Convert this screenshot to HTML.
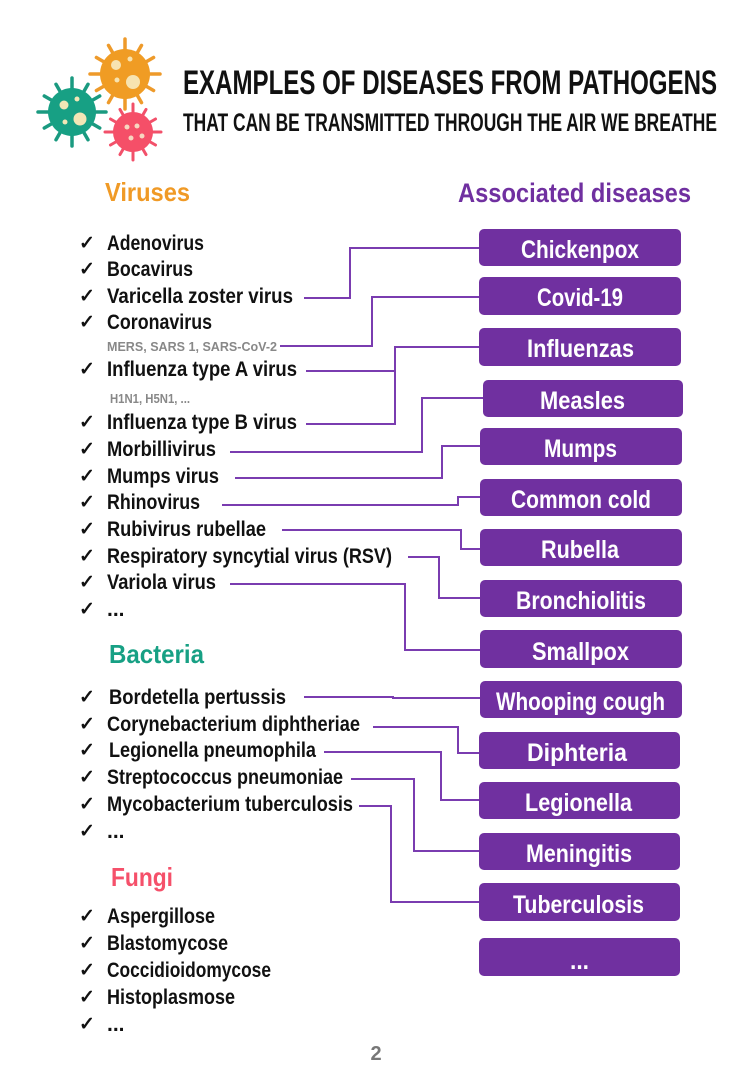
<!DOCTYPE html>
<html><head><meta charset="utf-8"><style>
html,body{margin:0;padding:0;background:#fff;}
svg{display:block;}
text{font-family:"Liberation Sans Narrow","Liberation Sans",sans-serif;font-weight:bold;}
.it{font-size:21px;fill:#111;}
.ck{font-size:19px;fill:#111;font-family:"DejaVu Sans",sans-serif;font-weight:normal;}
.sm{font-size:13px;fill:#888;}
.bx{fill:#7030a0;}
.bt{font-size:25px;fill:#fff;}
.ln{stroke:#7a3cb0;stroke-width:2;fill:none;}
</style></head><body>
<svg width="750" height="1074" viewBox="0 0 750 1074" xmlns="http://www.w3.org/2000/svg">
<g transform="translate(125,74)" stroke="#ee9a2a" stroke-width="3.5" stroke-linecap="round">
 <g><line x1="0" y1="-24" x2="0" y2="-35"/><line x1="0" y1="24" x2="0" y2="35"/><line x1="-24" y1="0" x2="-35" y2="0"/><line x1="24" y1="0" x2="35" y2="0"/></g>
 <g transform="rotate(30)"><line x1="0" y1="-24" x2="0" y2="-33"/><line x1="0" y1="24" x2="0" y2="33"/><line x1="-24" y1="0" x2="-33" y2="0"/><line x1="24" y1="0" x2="33" y2="0"/></g>
 <g transform="rotate(60)"><line x1="0" y1="-24" x2="0" y2="-33"/><line x1="0" y1="24" x2="0" y2="33"/><line x1="-24" y1="0" x2="-33" y2="0"/><line x1="24" y1="0" x2="33" y2="0"/></g>
 <circle r="25" fill="#f09c24" stroke="none"/>
 <circle cx="-9" cy="-9" r="5" fill="#f7e3b0" stroke="none"/><circle cx="8" cy="8" r="7" fill="#f7e3b0" stroke="none"/><circle cx="5" cy="-15" r="2.5" fill="#f7e3b0" stroke="none"/><circle cx="-8" cy="6" r="2.5" fill="#f7e3b0" stroke="none"/>
</g>
<g transform="translate(72,112)" stroke="#1a9a80" stroke-width="3.5" stroke-linecap="round">
 <g><line x1="0" y1="-22" x2="0" y2="-34"/><line x1="0" y1="22" x2="0" y2="34"/><line x1="-22" y1="0" x2="-34" y2="0"/><line x1="22" y1="0" x2="34" y2="0"/></g>
 <g transform="rotate(30)"><line x1="0" y1="-22" x2="0" y2="-32"/><line x1="0" y1="22" x2="0" y2="32"/><line x1="-22" y1="0" x2="-32" y2="0"/><line x1="22" y1="0" x2="32" y2="0"/></g>
 <g transform="rotate(60)"><line x1="0" y1="-22" x2="0" y2="-32"/><line x1="0" y1="22" x2="0" y2="32"/><line x1="-22" y1="0" x2="-32" y2="0"/><line x1="22" y1="0" x2="32" y2="0"/></g>
 <circle r="24" fill="#17a084" stroke="none"/>
 <circle cx="-8" cy="-7" r="4.5" fill="#f2e6b6" stroke="none"/><circle cx="8" cy="7" r="6.5" fill="#f2e6b6" stroke="none"/><circle cx="5" cy="-13" r="2.5" fill="#f2e6b6" stroke="none"/><circle cx="-7" cy="10" r="2.5" fill="#f2e6b6" stroke="none"/>
</g>
<g transform="translate(133,132)" stroke="#f2506a" stroke-width="3" stroke-linecap="round">
 <g><line x1="0" y1="-18" x2="0" y2="-28"/><line x1="0" y1="18" x2="0" y2="28"/><line x1="-18" y1="0" x2="-28" y2="0"/><line x1="18" y1="0" x2="28" y2="0"/></g>
 <g transform="rotate(30)"><line x1="0" y1="-18" x2="0" y2="-26"/><line x1="0" y1="18" x2="0" y2="26"/><line x1="-18" y1="0" x2="-26" y2="0"/><line x1="18" y1="0" x2="26" y2="0"/></g>
 <g transform="rotate(60)"><line x1="0" y1="-18" x2="0" y2="-26"/><line x1="0" y1="18" x2="0" y2="26"/><line x1="-18" y1="0" x2="-26" y2="0"/><line x1="18" y1="0" x2="26" y2="0"/></g>
 <circle r="20" fill="#f54f68" stroke="none"/>
 <circle cx="-6" cy="-5" r="2.5" fill="#f7d6c0" stroke="none"/><circle cx="4" cy="-6" r="2.5" fill="#f7d6c0" stroke="none"/><circle cx="-2" cy="6" r="2.5" fill="#f7d6c0" stroke="none"/><circle cx="9" cy="4" r="2.5" fill="#f7d6c0" stroke="none"/>
</g>
<text x="183" y="94" font-size="34" fill="#111" textLength="534" lengthAdjust="spacingAndGlyphs">EXAMPLES OF DISEASES FROM PATHOGENS</text>
<text x="183" y="131" font-size="25" fill="#111" textLength="534" lengthAdjust="spacingAndGlyphs">THAT CAN BE TRANSMITTED THROUGH THE AIR WE BREATHE</text>
<text x="105" y="201" font-size="26" fill="#f09a26" textLength="85" lengthAdjust="spacingAndGlyphs">Viruses</text>
<text x="458" y="202" font-size="27" fill="#7030a0" textLength="233" lengthAdjust="spacingAndGlyphs">Associated diseases</text>
<text x="109" y="663" font-size="26" fill="#17a084" textLength="95" lengthAdjust="spacingAndGlyphs">Bacteria</text>
<text x="111" y="886" font-size="26" fill="#f5506a" textLength="62" lengthAdjust="spacingAndGlyphs">Fungi</text>
<g class="ck">
<text x="79" y="249">✓</text><text x="79" y="275">✓</text><text x="79" y="302">✓</text><text x="79" y="328">✓</text>
<text x="79" y="375">✓</text><text x="79" y="428">✓</text><text x="79" y="455">✓</text><text x="79" y="482">✓</text>
<text x="79" y="508">✓</text><text x="79" y="535">✓</text><text x="79" y="562">✓</text><text x="79" y="588">✓</text><text x="79" y="615">✓</text>
<text x="79" y="703">✓</text><text x="79" y="730">✓</text><text x="79" y="756">✓</text><text x="79" y="783">✓</text><text x="79" y="810">✓</text><text x="79" y="837">✓</text>
<text x="79" y="922">✓</text><text x="79" y="949">✓</text><text x="79" y="976">✓</text><text x="79" y="1003">✓</text><text x="79" y="1030">✓</text>
</g>
<g class="it">
<text x="107" y="250" textLength="97" lengthAdjust="spacingAndGlyphs">Adenovirus</text>
<text x="107" y="276" textLength="86" lengthAdjust="spacingAndGlyphs">Bocavirus</text>
<text x="107" y="303" textLength="186" lengthAdjust="spacingAndGlyphs">Varicella zoster virus</text>
<text x="107" y="329" textLength="105" lengthAdjust="spacingAndGlyphs">Coronavirus</text>
<text x="107" y="376" textLength="190" lengthAdjust="spacingAndGlyphs">Influenza type A virus</text>
<text x="107" y="429" textLength="190" lengthAdjust="spacingAndGlyphs">Influenza type B virus</text>
<text x="107" y="456" textLength="109" lengthAdjust="spacingAndGlyphs">Morbillivirus</text>
<text x="107" y="483" textLength="112" lengthAdjust="spacingAndGlyphs">Mumps virus</text>
<text x="107" y="509" textLength="93" lengthAdjust="spacingAndGlyphs">Rhinovirus</text>
<text x="107" y="536" textLength="159" lengthAdjust="spacingAndGlyphs">Rubivirus rubellae</text>
<text x="107" y="563" textLength="285" lengthAdjust="spacingAndGlyphs">Respiratory syncytial virus (RSV)</text>
<text x="107" y="589" textLength="109" lengthAdjust="spacingAndGlyphs">Variola virus</text>
<text x="107" y="616">...</text>
<text x="109" y="704" textLength="177" lengthAdjust="spacingAndGlyphs">Bordetella pertussis</text>
<text x="107" y="731" textLength="253" lengthAdjust="spacingAndGlyphs">Corynebacterium diphtheriae</text>
<text x="109" y="757" textLength="207" lengthAdjust="spacingAndGlyphs">Legionella pneumophila</text>
<text x="107" y="784" textLength="236" lengthAdjust="spacingAndGlyphs">Streptococcus pneumoniae</text>
<text x="107" y="811" textLength="246" lengthAdjust="spacingAndGlyphs">Mycobacterium tuberculosis</text>
<text x="107" y="838">...</text>
<text x="107" y="923" textLength="108" lengthAdjust="spacingAndGlyphs">Aspergillose</text>
<text x="107" y="950" textLength="121" lengthAdjust="spacingAndGlyphs">Blastomycose</text>
<text x="107" y="977" textLength="164" lengthAdjust="spacingAndGlyphs">Coccidioidomycose</text>
<text x="107" y="1004" textLength="128" lengthAdjust="spacingAndGlyphs">Histoplasmose</text>
<text x="107" y="1031">...</text>
</g>
<text class="sm" x="107" y="351" textLength="170" lengthAdjust="spacingAndGlyphs">MERS, SARS 1, SARS-CoV-2</text>
<text class="sm" x="110" y="403" textLength="80" lengthAdjust="spacingAndGlyphs">H1N1, H5N1, ...</text>
<text x="376" y="1060" font-size="20" fill="#777" text-anchor="middle">2</text>
<g class="ln">
<polyline points="304,298 350,298 350,248 480,248"/>
<polyline points="280,346 372,346 372,297 480,297"/>
<polyline points="306,371 395,371"/>
<polyline points="306,424 395,424 395,347 480,347"/>
<polyline points="230,452 422,452 422,398 483,398"/>
<polyline points="235,478 442,478 442,446 480,446"/>
<polyline points="222,505 458,505 458,497 480,497"/>
<polyline points="282,530 461,530 461,549 480,549"/>
<polyline points="408,557 439,557 439,598 480,598"/>
<polyline points="230,584 405,584 405,650 480,650"/>
<polyline points="304,697 393,697 393,698 480,698"/>
<polyline points="373,727 458,727 458,753 480,753"/>
<polyline points="324,752 441,752 441,800 480,800"/>
<polyline points="351,779 414,779 414,851 480,851"/>
<polyline points="359,806 391,806 391,902 480,902"/>
</g>
<g>
<rect class="bx" x="479" y="229" width="202" height="37" rx="5"/><text class="bt" x="521" y="258" textLength="118" lengthAdjust="spacingAndGlyphs">Chickenpox</text>
<rect class="bx" x="479" y="277" width="202" height="38" rx="5"/><text class="bt" x="537" y="306" textLength="86" lengthAdjust="spacingAndGlyphs">Covid-19</text>
<rect class="bx" x="479" y="328" width="202" height="38" rx="5"/><text class="bt" x="527" y="357" textLength="107" lengthAdjust="spacingAndGlyphs">Influenzas</text>
<rect class="bx" x="483" y="380" width="200" height="37" rx="5"/><text class="bt" x="540" y="409" textLength="85" lengthAdjust="spacingAndGlyphs">Measles</text>
<rect class="bx" x="480" y="428" width="202" height="37" rx="5"/><text class="bt" x="544" y="457" textLength="73" lengthAdjust="spacingAndGlyphs">Mumps</text>
<rect class="bx" x="480" y="479" width="202" height="37" rx="5"/><text class="bt" x="511" y="508" textLength="140" lengthAdjust="spacingAndGlyphs">Common cold</text>
<rect class="bx" x="480" y="529" width="202" height="37" rx="5"/><text class="bt" x="541" y="558" textLength="78" lengthAdjust="spacingAndGlyphs">Rubella</text>
<rect class="bx" x="480" y="580" width="202" height="37" rx="5"/><text class="bt" x="516" y="609" textLength="130" lengthAdjust="spacingAndGlyphs">Bronchiolitis</text>
<rect class="bx" x="480" y="630" width="202" height="38" rx="5"/><text class="bt" x="532" y="660" textLength="97" lengthAdjust="spacingAndGlyphs">Smallpox</text>
<rect class="bx" x="480" y="681" width="202" height="37" rx="5"/><text class="bt" x="496" y="710" textLength="169" lengthAdjust="spacingAndGlyphs">Whooping cough</text>
<rect class="bx" x="479" y="732" width="201" height="37" rx="5"/><text class="bt" x="527" y="761" textLength="100" lengthAdjust="spacingAndGlyphs">Diphteria</text>
<rect class="bx" x="479" y="782" width="201" height="37" rx="5"/><text class="bt" x="525" y="811" textLength="107" lengthAdjust="spacingAndGlyphs">Legionella</text>
<rect class="bx" x="479" y="833" width="201" height="37" rx="5"/><text class="bt" x="526" y="862" textLength="106" lengthAdjust="spacingAndGlyphs">Meningitis</text>
<rect class="bx" x="479" y="883" width="201" height="38" rx="5"/><text class="bt" x="513" y="913" textLength="131" lengthAdjust="spacingAndGlyphs">Tuberculosis</text>
<rect class="bx" x="479" y="938" width="201" height="38" rx="5"/><text class="bt" x="570" y="969" textLength="19" lengthAdjust="spacingAndGlyphs">...</text>
</g>
</svg>
</body></html>
